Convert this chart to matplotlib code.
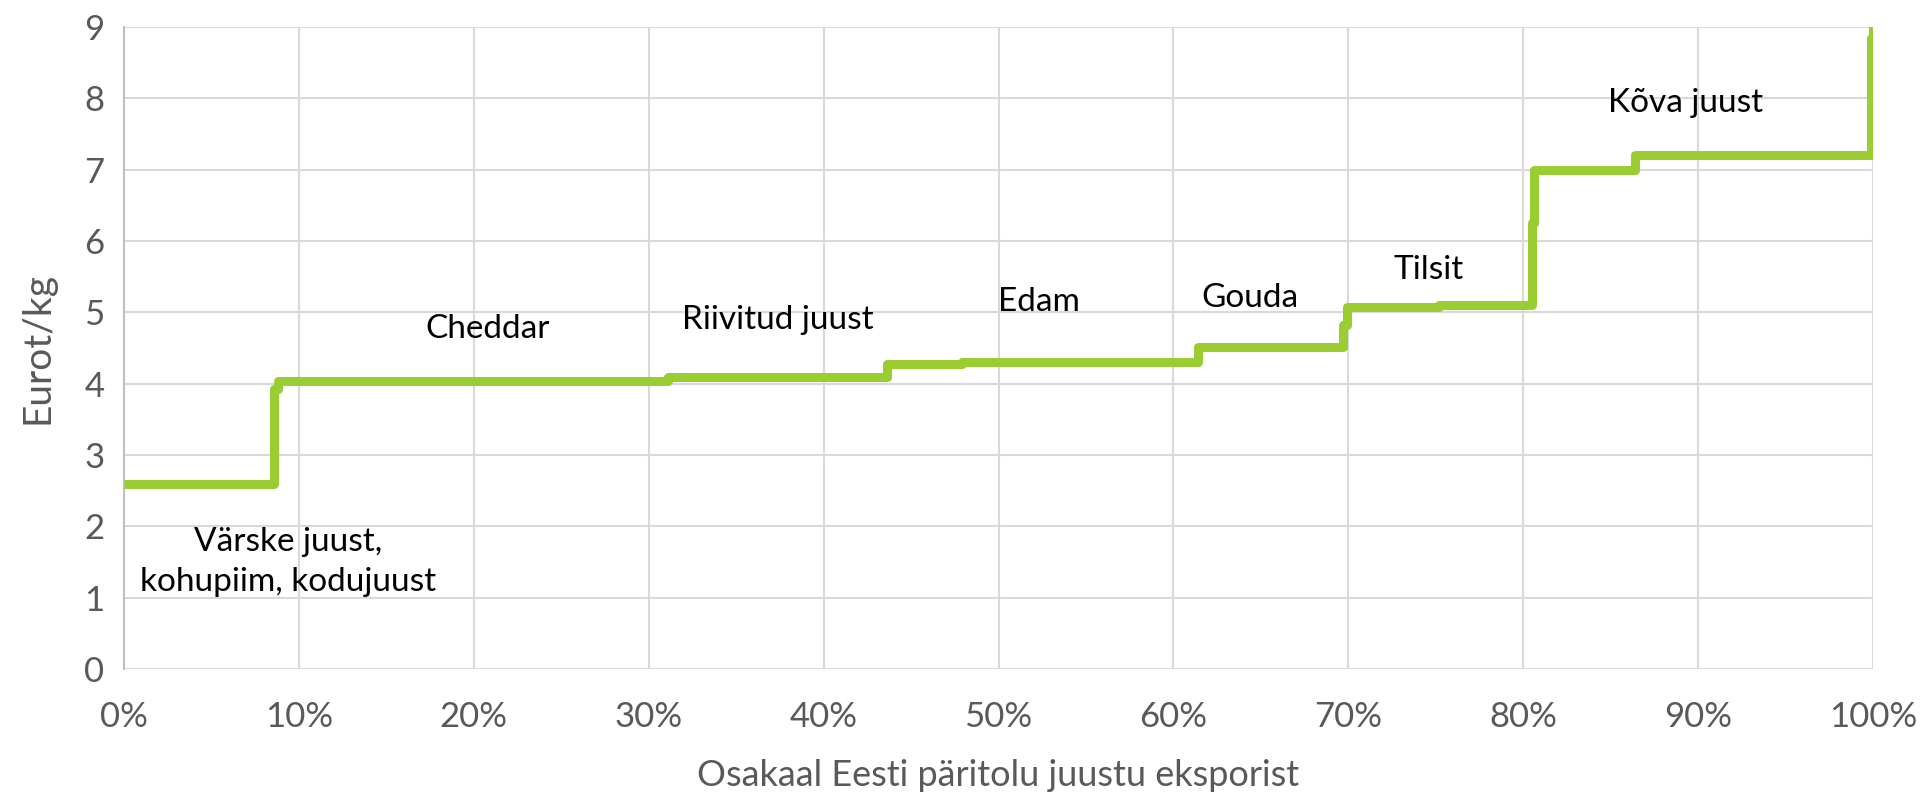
import matplotlib
matplotlib.use("Agg")
import matplotlib.pyplot as plt
from matplotlib.ticker import FuncFormatter

# Step vertices: cumulative share of export (%) and price (EUR/kg)
share_pct = [0, 8.6, 8.8, 31.1, 43.6, 47.9, 61.4, 69.7, 69.9, 75.2, 80.5, 80.6, 86.4, 99.9, 100]
price_eur = [2.60, 3.93, 4.03, 4.10, 4.28, 4.30, 4.52, 4.82, 5.08, 5.10, 6.25, 7.00, 7.20, 8.85, 9.3]

labels = ["Värske juust,\nkohupiim, kodujuust", "Cheddar", "Riivitud juust", "Edam",
          "Gouda", "Tilsit", "Kõva juust"]
label_x = [9.4, 20.8, 37.4, 52.3, 64.4, 74.6, 89.3]
label_y = [1.5, 4.77, 4.89, 5.15, 5.2, 5.6, 7.93]

x_ticks = list(range(0, 101, 10))
y_ticks = list(range(0, 10))

plt.rcParams['font.family'] = ['Lato', 'DejaVu Sans']

fig = plt.figure(figsize=(19.32, 7.93), dpi=100)
ax = fig.add_axes([0.0642, 0.1564, 0.9053, 0.8096])

ax.plot(share_pct, price_eur, drawstyle='steps-post', color='#9ACD32', lw=6.5,
        solid_joinstyle='round', solid_capstyle='butt', zorder=3)

for t, xx, yy in zip(labels, label_x, label_y):
    ax.text(xx, yy, t, ha='center', va='center', fontsize=24, color='black',
            linespacing=1.4, zorder=4)

ax.set_xlim(0, 100)
ax.set_ylim(0, 9)
ax.set_xticks(x_ticks)
ax.set_yticks(y_ticks)
ax.xaxis.set_major_formatter(FuncFormatter(lambda v, p: f"{int(v)}%"))
ax.grid(True, color='#D9D9D9', lw=1.5, zorder=0)
ax.set_axisbelow(True)
for s in ['top', 'right', 'bottom']:
    ax.spines[s].set_visible(False)
ax.spines['left'].set_color('#BFBFBF')
ax.spines['left'].set_linewidth(1.5)
ax.tick_params(axis='both', length=0, labelsize=25, labelcolor='#595959')
ax.tick_params(axis='x', pad=23)
ax.tick_params(axis='y', pad=14)
ax.set_xlabel("Osakaal Eesti päritolu juustu eksporist", fontsize=26, color='#595959', labelpad=19)
ax.set_ylabel("Eurot/kg", fontsize=28, color='#595959', labelpad=21)

fig.savefig("out.png", dpi=100)
